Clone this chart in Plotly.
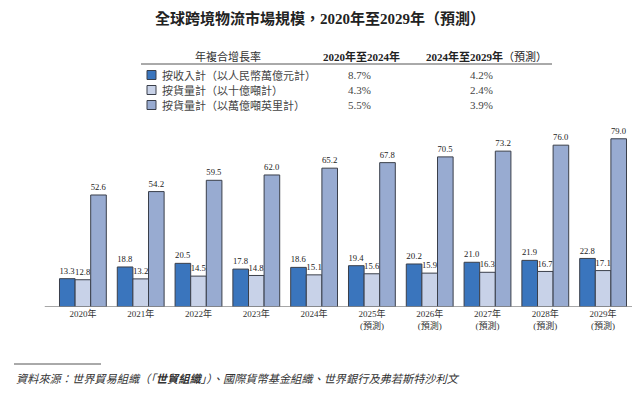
import plotly.graph_objects as go

years = ["2020年", "2021年", "2022年", "2023年", "2024年",
         "2025年<br>(預測)", "2026年<br>(預測)", "2027年<br>(預測)", "2028年<br>(預測)", "2029年<br>(預測)"]
revenue = [13.3, 18.8, 20.5, 17.8, 18.6, 19.4, 20.2, 21.0, 21.9, 22.8]
volume_t = [12.8, 13.2, 14.5, 14.8, 15.1, 15.6, 15.9, 16.3, 16.7, 17.1]
volume_tkm = [52.6, 54.2, 59.5, 62.0, 65.2, 67.8, 70.5, 73.2, 76.0, 79.0]

series_names = ["按收入計（以人民幣萬億元計）", "按貨量計（以十億噸計）", "按貨量計（以萬億噸英里計）"]
cagr_20_24 = ["8.7%", "4.3%", "5.5%"]
cagr_24_29 = ["4.2%", "2.4%", "3.9%"]
colors = ["#3a75bd", "#c8d2e8", "#98abd1"]

FONT = "Liberation Serif, Noto Sans CJK TC"
cats = list(range(len(years)))

fig = go.Figure()
for vals, name, col in zip([revenue, volume_t, volume_tkm], series_names, colors):
    fig.add_trace(go.Bar(
        x=cats, y=vals, name=name,
        marker=dict(color=col, line=dict(color="#3a3f4a", width=1)),
        text=[f"{v:.1f}" for v in vals], textposition="outside",
        textfont=dict(family=FONT, size=9, color="#222"),
        cliponaxis=False,
    ))

fig.update_layout(
    width=640, height=394,
    margin=dict(l=54, r=8, t=126, b=87),
    paper_bgcolor="white", plot_bgcolor="white",
    barmode="group", bargap=0.19, bargroupgap=0,
    showlegend=False,
    font=dict(family=FONT, size=9, color="#333"),
    xaxis=dict(tickmode="array", tickvals=cats, ticktext=years, range=[-0.5, 9.5],
               showgrid=False, zeroline=False, showline=False, ticks="",
               tickfont=dict(family=FONT, size=9, color="#333")),
    yaxis=dict(range=[0, 85], visible=False),
)

# baseline
fig.add_shape(type="line", xref="paper", yref="y", x0=-0.016, x1=1.0, y0=0, y1=0,
              line=dict(color="#8a8a8a", width=1.5))

# title
fig.add_annotation(text="<b>全球跨境物流市場規模，2020年至2029年（預測）</b>", xref="paper", yref="paper",
                   x=0.5, y=1, xanchor="center", yanchor="middle", showarrow=False,
                   font=dict(family=FONT, size=15, color="#222"),
                   xshift=320 - (54 + 578 / 2), yshift=126 - 18)

# legend table (pixel helpers)
def px(xp):
    return (xp - 54) / 578.0

def py(yp):
    return (307 - yp) / 181.0

fig.add_annotation(text="年複合增長率", x=px(228), y=py(56), xref="paper", yref="paper",
                   showarrow=False, xanchor="center", yanchor="middle",
                   font=dict(family=FONT, size=11, color="#333"))
fig.add_annotation(text="<b>2020年至2024年</b>", x=px(362), y=py(56), xref="paper", yref="paper",
                   showarrow=False, xanchor="center", yanchor="middle",
                   font=dict(family=FONT, size=11, color="#222"))
fig.add_annotation(text="<b>2024年至2029年</b>（預測）", x=px(486), y=py(56), xref="paper", yref="paper",
                   showarrow=False, xanchor="center", yanchor="middle",
                   font=dict(family=FONT, size=11, color="#222"))
fig.add_shape(type="line", xref="paper", yref="paper", x0=px(141), x1=px(552), y0=py(64), y1=py(64),
              line=dict(color="#555", width=1))

row_y = [75, 90, 105]
for name, a, b, col, yy in zip(series_names, cagr_20_24, cagr_24_29, colors, row_y):
    fig.add_shape(type="rect", xref="paper", yref="paper",
                  x0=px(147), x1=px(156), y0=py(yy - 4.5), y1=py(yy + 4.5),
                  fillcolor=col, line=dict(color="#3a3f4a", width=1))
    fig.add_annotation(text=name, x=px(160), y=py(yy), xref="paper", yref="paper",
                       showarrow=False, xanchor="left", yanchor="middle",
                       font=dict(family=FONT, size=11, color="#444"))
    fig.add_annotation(text=a, x=px(359), y=py(yy), xref="paper", yref="paper",
                       showarrow=False, xanchor="center", yanchor="middle",
                       font=dict(family=FONT, size=11, color="#444"))
    fig.add_annotation(text=b, x=px(481), y=py(yy), xref="paper", yref="paper",
                       showarrow=False, xanchor="center", yanchor="middle",
                       font=dict(family=FONT, size=11, color="#444"))

# source
fig.add_shape(type="line", xref="paper", yref="paper", x0=px(14), x1=px(101), y0=py(364), y1=py(364),
              line=dict(color="#555", width=1))
fig.add_annotation(text="<i>資料來源：世界貿易組織（「<b>世貿組織</b>」）、國際貨幣基金組織、世界銀行及弗若斯特沙利文</i>",
                   x=px(14), y=py(379), xref="paper", yref="paper",
                   showarrow=False, xanchor="left", yanchor="middle",
                   font=dict(family=FONT, size=11.2, color="#333"))

fig.write_html("out.html", config={"displayModeBar": False},
               post_script="document.body.style.margin='0';document.body.style.padding='0';")
